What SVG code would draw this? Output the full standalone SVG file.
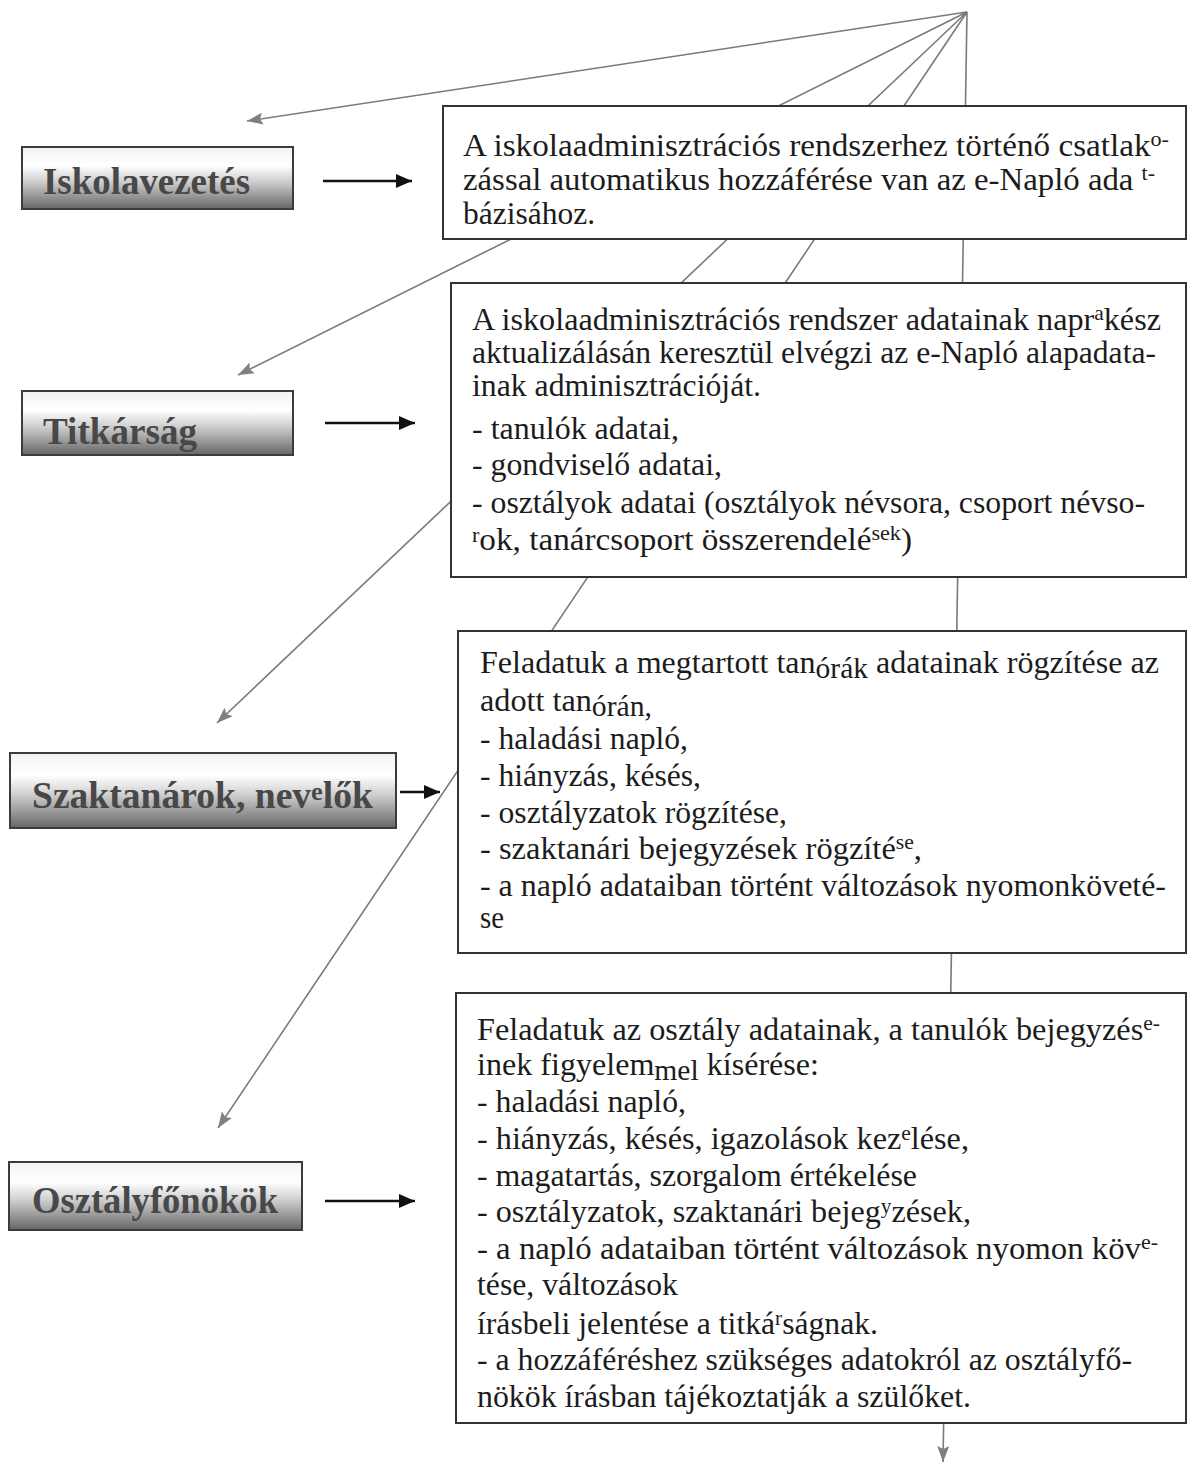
<svg xmlns="http://www.w3.org/2000/svg" width="1188" height="1465" viewBox="0 0 1188 1465">
<defs>
<linearGradient id="lg" x1="0" y1="0" x2="0" y2="1">
<stop offset="0" stop-color="#f2f2f2"/>
<stop offset="0.3" stop-color="#ffffff"/>
<stop offset="0.55" stop-color="#d0d0d0"/>
<stop offset="1" stop-color="#666666"/>
</linearGradient>
<marker id="ga" markerUnits="userSpaceOnUse" markerWidth="18" markerHeight="14" refX="16" refY="6" orient="auto">
<path d="M0,0 L16,6 L0,12 L3,6 z" fill="#808080"/>
</marker>
<marker id="ba" markerUnits="userSpaceOnUse" markerWidth="18" markerHeight="16" refX="16" refY="7" orient="auto">
<path d="M0,0 L16,7 L0,14 z" fill="#111"/>
</marker>
</defs>
<style>
.box{fill:#fff;stroke:#333;stroke-width:2}
.t{font-family:"Liberation Serif","Times New Roman",serif;font-size:31.5px;fill:#1c1c1c}
.sup{font-size:21px}
.sub{font-size:29px}
.lbl{fill:url(#lg);stroke:#3c3c3c;stroke-width:2}
.lt{font-family:"Liberation Serif","Times New Roman",serif;font-weight:bold;font-size:37px;fill:#484848}
.lsup{font-size:26px}
.conn{stroke:#7a7a7a;stroke-width:1.6;fill:none;marker-end:url(#ga)}
.barr{stroke:#111;stroke-width:2.6;fill:none;marker-end:url(#ba)}
</style>
<rect width="1188" height="1465" fill="#fff"/>

<g id="connectors">
<line class="conn" x1="967" y1="12" x2="247" y2="121"/>
<line class="conn" x1="967" y1="12" x2="238" y2="375"/>
<line class="conn" x1="967" y1="12" x2="217" y2="723"/>
<line class="conn" x1="967" y1="12" x2="218" y2="1128"/>
<line class="conn" x1="967" y1="12" x2="943" y2="1462"/>
<line class="barr" x1="323" y1="181" x2="412" y2="181"/>
<line class="barr" x1="325" y1="423" x2="415" y2="423"/>
<line class="barr" x1="400" y1="792" x2="440" y2="792"/>
<line class="barr" x1="325" y1="1201" x2="415" y2="1201"/>
</g>

<g id="iskolavezetes">
<rect class="lbl" x="22" y="147" width="271" height="62"/>
<text class="lt" x="43" y="194" textLength="207" lengthAdjust="spacingAndGlyphs">Iskolavezetés</text>
</g>
<g id="titkarsag">
<rect class="lbl" x="22" y="391" width="271" height="64"/>
<text class="lt" x="43" y="444" textLength="154" lengthAdjust="spacingAndGlyphs">Titkárság</text>
</g>
<g id="szaktanarok">
<rect class="lbl" x="10" y="753" width="386" height="75"/>
<text class="lt" x="32" y="808" textLength="341" lengthAdjust="spacingAndGlyphs">Szaktanárok, nev<tspan class="lsup" dy="-8">e</tspan><tspan dy="8">lők</tspan></text>
</g>
<g id="osztalyfonokok">
<rect class="lbl" x="9" y="1162" width="293" height="68"/>
<text class="lt" x="32" y="1213" textLength="246" lengthAdjust="spacingAndGlyphs">Osztályfőnökök</text>
</g>

<g id="box1">
<rect class="box" x="443" y="106" width="743" height="133"/>
<text class="t" x="463" y="156" textLength="706" lengthAdjust="spacingAndGlyphs">A iskolaadminisztrációs rendszerhez történő csatlak<tspan class="sup" dy="-10">o-</tspan></text>
<text class="t" x="463" y="190" textLength="692" lengthAdjust="spacingAndGlyphs">zással automatikus hozzáférése van az e-Napló ada <tspan class="sup" dy="-10">t-</tspan></text>
<text class="t" x="463" y="224" textLength="132" lengthAdjust="spacingAndGlyphs">bázisához.</text>
</g>

<g id="box2">
<rect class="box" x="451" y="283" width="735" height="294"/>
<text class="t" x="472" y="330" textLength="689" lengthAdjust="spacingAndGlyphs">A iskolaadminisztrációs rendszer adatainak napr<tspan class="sup" dy="-10">a</tspan><tspan dy="10">kész</tspan></text>
<text class="t" x="472" y="363" textLength="684" lengthAdjust="spacingAndGlyphs">aktualizálásán keresztül elvégzi az e-Napló alapadata-</text>
<text class="t" x="472" y="396" textLength="289" lengthAdjust="spacingAndGlyphs">inak adminisztrációját.</text>
<text class="t" x="472" y="439" textLength="207" lengthAdjust="spacingAndGlyphs">- tanulók adatai,</text>
<text class="t" x="472" y="475" textLength="250" lengthAdjust="spacingAndGlyphs">- gondviselő adatai,</text>
<text class="t" x="472" y="513" textLength="673" lengthAdjust="spacingAndGlyphs">- osztályok adatai (osztályok névsora, csoport névso-</text>
<text class="t" x="472" y="550" textLength="440" lengthAdjust="spacingAndGlyphs"><tspan class="sup" dy="-8">r</tspan><tspan dy="8">ok, tanárcsoport összerendelé</tspan><tspan class="sup" dy="-10">sek</tspan><tspan dy="10">)</tspan></text>
</g>

<g id="box3">
<rect class="box" x="458" y="631" width="728" height="322"/>
<text class="t" x="480" y="673" textLength="679" lengthAdjust="spacingAndGlyphs">Feladatuk a megtartott tan<tspan class="sub" dy="5">órák</tspan><tspan dy="-5"> adatainak rögzítése az</tspan></text>
<text class="t" x="480" y="711" textLength="172" lengthAdjust="spacingAndGlyphs">adott tan<tspan class="sub" dy="5">órán,</tspan></text>
<text class="t" x="480" y="749" textLength="208" lengthAdjust="spacingAndGlyphs">- haladási napló,</text>
<text class="t" x="480" y="786" textLength="221" lengthAdjust="spacingAndGlyphs">- hiányzás, késés,</text>
<text class="t" x="480" y="823" textLength="307" lengthAdjust="spacingAndGlyphs">- osztályzatok rögzítése,</text>
<text class="t" x="480" y="859" textLength="442" lengthAdjust="spacingAndGlyphs">- szaktanári bejegyzések rögzíté<tspan class="sup" dy="-10">se</tspan><tspan dy="10">,</tspan></text>
<text class="t" x="480" y="896" textLength="686" lengthAdjust="spacingAndGlyphs">- a napló adataiban történt változások nyomonkövet&#233;-</text>
<text class="t" x="480" y="928" textLength="24" lengthAdjust="spacingAndGlyphs">se</text>
</g>

<g id="box4">
<rect class="box" x="456" y="993" width="730" height="430"/>
<text class="t" x="477" y="1040" textLength="683" lengthAdjust="spacingAndGlyphs">Feladatuk az osztály adatainak, a tanulók bejegyzés<tspan class="sup" dy="-10">e-</tspan></text>
<text class="t" x="477" y="1075" textLength="342" lengthAdjust="spacingAndGlyphs">inek figyelem<tspan class="sub" dy="5">mel</tspan><tspan dy="-5"> kísérése:</tspan></text>
<text class="t" x="477" y="1112" textLength="209" lengthAdjust="spacingAndGlyphs">- haladási napló,</text>
<text class="t" x="477" y="1149" textLength="492" lengthAdjust="spacingAndGlyphs">- hiányzás, késés, igazolások kez<tspan class="sup" dy="-9">e</tspan><tspan dy="9">lése,</tspan></text>
<text class="t" x="477" y="1186" textLength="440" lengthAdjust="spacingAndGlyphs">- magatartás, szorgalom értékelése</text>
<text class="t" x="477" y="1222" textLength="494" lengthAdjust="spacingAndGlyphs">- osztályzatok, szaktanári bejeg<tspan class="sup" dy="-9">y</tspan><tspan dy="9">zések,</tspan></text>
<text class="t" x="477" y="1259" textLength="681" lengthAdjust="spacingAndGlyphs">- a napló adataiban történt változások nyomon köv<tspan class="sup" dy="-10">e-</tspan></text>
<text class="t" x="477" y="1295" textLength="201" lengthAdjust="spacingAndGlyphs">tése, változások</text>
<text class="t" x="477" y="1334" textLength="401" lengthAdjust="spacingAndGlyphs">írásbeli jelentése a titká<tspan class="sup" dy="-9">r</tspan><tspan dy="9">ságnak.</tspan></text>
<text class="t" x="477" y="1370" textLength="655" lengthAdjust="spacingAndGlyphs">- a hozzáféréshez szükséges adatokról az osztályfő-</text>
<text class="t" x="477" y="1407" textLength="494" lengthAdjust="spacingAndGlyphs">nökök írásban tájékoztatják a szülőket.</text>
</g>
</svg>
